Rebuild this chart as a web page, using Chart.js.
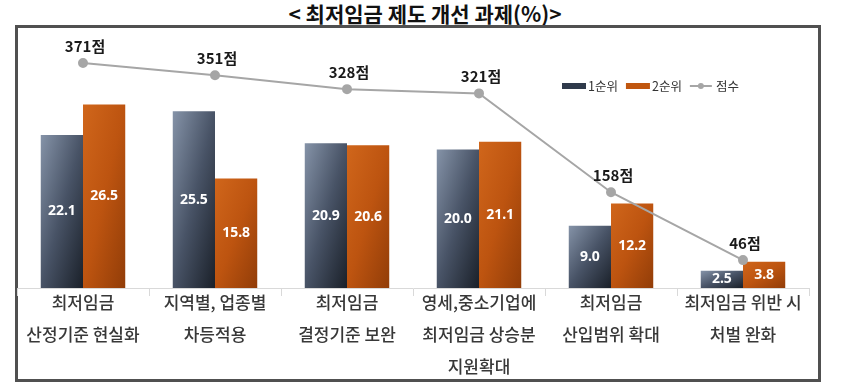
<!DOCTYPE html>
<html>
<head>
<meta charset="utf-8">
<script src="https://cdn.jsdelivr.net/npm/chart.js@4"></script>
<style>
  body { margin: 0; background: #fff; }
  #wrap { position: relative; width: 850px; height: 386px; overflow: hidden; }
  #title {
    position: absolute; left: 0; top: 1px; width: 850px; text-align: center;
    font: bold 21px "Noto Sans CJK KR", "Noto Sans", sans-serif; color: #111; line-height: 24px;
  }
  #box {
    position: absolute; left: 15px; top: 25px; width: 806px; height: 357px;
    box-sizing: border-box; border: 3px solid #505050;
  }
  #chart { position: absolute; left: 0; top: 0; }
</style>
</head>
<body>
<div id="wrap">
  <div id="title">&lt; 최저임금 제도 개선 과제(%)&gt;</div>
  <div id="box"></div>
  <canvas id="chart" width="850" height="386"></canvas>
</div>
<script>
// chart data
const categories = [
    ['최저임금', '산정기준 현실화'],
    ['지역별, 업종별', '차등적용'],
    ['최저임금', '결정기준 보완'],
    ['영세,중소기업에', '최저임금 상승분', '지원확대'],
    ['최저임금', '산입범위 확대'],
    ['최저임금 위반 시', '처벌 완화']
];
const rank1 = [22.1, 25.5, 20.9, 20.0, 9.0, 2.5];
const rank2 = [26.5, 15.8, 20.6, 21.1, 12.2, 3.8];
const scores = [371, 351, 328, 321, 158, 46];
const seriesNames = ['1순위', '2순위', '점수'];

const CJK = '"Noto Sans CJK KR", "Noto Sans", sans-serif';
const CAT_PCT = 0.64;

// diagonal gradient over the bar's own box (top-left light, bottom-right dark)
function barFill(stops, flat) {
    return (context) => {
        const chart = context.chart;
        if (!chart.chartArea || context.type !== 'data') return flat;
        const xs = chart.scales.x;
        const ys = chart.scales.y;
        const cx = xs.getPixelForValue(context.dataIndex);
        const w = xs.width / categories.length * CAT_PCT / 2;
        const left = context.datasetIndex === 1 ? cx - w : cx;
        const top = ys.getPixelForValue(context.raw);
        const h = Math.max(ys.getPixelForValue(0) - top, 1);
        const c = 2 / (1 / (w * w) + 1 / (h * h));
        const g = chart.ctx.createLinearGradient(left, top, left + c / w, top + c / h);
        stops.forEach((s) => g.addColorStop(s[0], s[1]));
        return g;
    };
}

// value labels on bars and score labels over points
const valueLabels = {
    id: 'valueLabels',
    afterDatasetsDraw(chart) {
        const ctx = chart.ctx;
        ctx.save();
        ctx.textAlign = 'center';
        ctx.textBaseline = 'middle';
        chart.data.datasets.forEach((ds, i) => {
            const meta = chart.getDatasetMeta(i);
            meta.data.forEach((el, j) => {
                if (ds.type === 'line') {
                    ctx.font = 'bold 15px ' + CJK;
                    ctx.fillStyle = '#1a1a1a';
                    ctx.fillText(ds.data[j] + '점', el.x + 2, el.y - 17);
                } else {
                    ctx.font = 'bold 14px "Noto Sans", sans-serif';
                    ctx.fillStyle = '#ffffff';
                    ctx.fillText(ds.data[j].toFixed(1), el.x, (el.y + el.base) / 2);
                }
            });
        });
        ctx.restore();
    }
};

// small legend inside the plot, top right
const innerLegend = {
    id: 'innerLegend',
    afterDraw(chart) {
        const ctx = chart.ctx;
        const y = 86;
        let x = 562;
        ctx.save();
        ctx.font = '12.5px ' + CJK;
        ctx.textBaseline = 'middle';
        ctx.textAlign = 'left';
        const swatches = ['#2f3a4b', '#c0560f'];
        for (let i = 0; i < 2; i++) {
            ctx.fillStyle = swatches[i];
            ctx.fillRect(x, y - 3, 24, 6);
            ctx.fillStyle = '#333';
            ctx.fillText(seriesNames[i], x + 26, y);
            x += 26 + ctx.measureText(seriesNames[i]).width + 8;
        }
        ctx.strokeStyle = '#a6a6a6';
        ctx.lineWidth = 2;
        ctx.beginPath();
        ctx.moveTo(x, y);
        ctx.lineTo(x + 22, y);
        ctx.stroke();
        ctx.fillStyle = '#a6a6a6';
        ctx.beginPath();
        ctx.arc(x + 11, y, 3, 0, Math.PI * 2);
        ctx.fill();
        ctx.fillStyle = '#333';
        ctx.fillText(seriesNames[2], x + 26, y);
        ctx.restore();
    }
};

const ctx = document.getElementById('chart').getContext('2d');
new Chart(ctx, {
    type: 'bar',
    data: {
        labels: categories,
        datasets: [{
            type: 'line',
            label: seriesNames[2],
            data: scores,
            yAxisID: 'y2',
            borderColor: '#a6a6a6',
            borderWidth: 2,
            pointRadius: 4,
            pointBackgroundColor: '#a6a6a6',
            pointBorderColor: '#a6a6a6',
            order: 0
        }, {
            label: seriesNames[0],
            data: rank1,
            yAxisID: 'y',
            backgroundColor: barFill([[0, '#8593a8'], [0.5, '#485366'], [1, '#1a2029']], '#3a4456'),
            categoryPercentage: CAT_PCT,
            barPercentage: 1,
            order: 1
        }, {
            label: seriesNames[1],
            data: rank2,
            yAxisID: 'y',
            backgroundColor: barFill([[0, '#d0661b'], [0.5, '#bd5410'], [1, '#923d08']], '#c0560f'),
            categoryPercentage: CAT_PCT,
            barPercentage: 1,
            order: 1
        }]
    },
    options: {
        responsive: false,
        animation: false,
        layout: { padding: { left: 17, right: 41, top: 45.5, bottom: 0 } },
        plugins: {
            legend: { display: false },
            tooltip: { enabled: false }
        },
        scales: {
            x: {
                afterFit: (s) => { s.height = 98; },
                border: { color: '#d9d9d9' },
                grid: { drawOnChartArea: false, drawTicks: true, tickLength: 8, color: '#d9d9d9' },
                ticks: {
                    autoSkip: false, maxRotation: 0, padding: -10,
                    color: '#383838',
                    font: { family: CJK, size: 17, weight: '500', lineHeight: 1.9 }
                }
            },
            y: { display: false, min: 0, max: 35 },
            y2: { display: false, min: 0, max: 400 }
        }
    },
    plugins: [valueLabels, innerLegend]
});
</script>
</body>
</html>
